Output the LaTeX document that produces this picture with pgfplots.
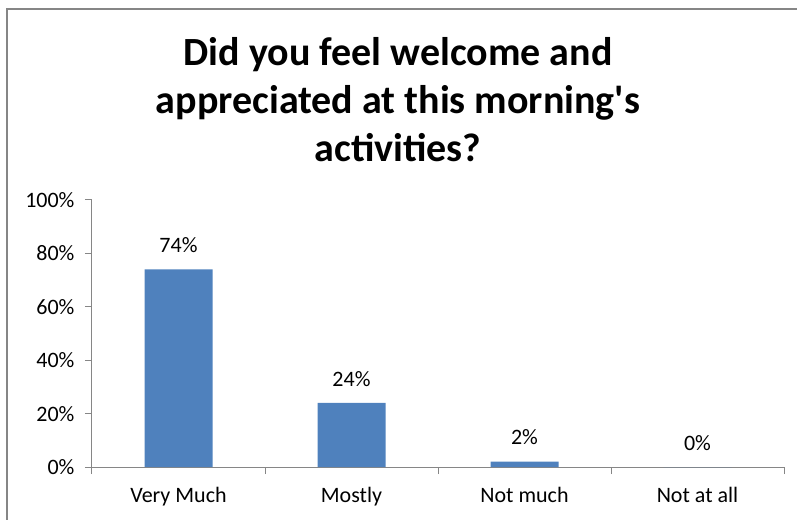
\documentclass[border=0pt]{standalone}
\usepackage{fontspec}
\setmainfont{Carlito}
\usepackage{pgfplots}
\pgfplotsset{compat=1.18}
\definecolor{barblue}{HTML}{4F81BD}
\definecolor{axisgray}{HTML}{868686}

\begin{document}
\begin{tikzpicture}[x=1pt,y=1pt]
  \useasboundingbox (-92,-52) rectangle (705,467);
  % chart frame (cut off at right and bottom)
  \draw[axisgray, line width=1.3pt] (-85,-60) -- (-85,458) -- (720,458);
  \node[align=center, font=\fontsize{40}{48}\selectfont\bfseries] at (306,367)
    {Did you feel welcome and\\appreciated at this morning\textquotesingle s\\activities?};
  \begin{axis}[
    at={(0,0)}, anchor=south west,
    scale only axis,
    width=692pt, height=267pt,
    ybar, bar width=68pt,
    xmin=-0.5, xmax=3.5,
    ymin=0, ymax=100,
    axis x line*=bottom, axis y line*=left,
    axis line style={axisgray, line width=1pt, -},
    xtick={-0.5,0.5,1.5,2.5,3.5}, xticklabels={},
    extra x ticks={0,1,2,3},
    extra x tick labels={Very Much, Mostly, Not much, Not at all},
    extra x tick style={major tick length=0pt, tick label style={yshift=-17pt}},
    ytick={0,20,40,60,80,100},
    yticklabel={\pgfmathprintnumber{\tick}\%},
    yticklabel style={xshift=-7pt},
    tick align=outside, major tick length=7pt,
    tick style={axisgray, line width=1pt},
    ticklabel style={font=\fontsize{22}{24}\selectfont, text=black},
    /pgf/number format/assume math mode=true,
    nodes near coords={\pgfmathprintnumber{\pgfplotspointmeta}\%},
    every node near coord/.append style={font=\fontsize{22}{24}\selectfont, text=black, yshift=13pt},
  ]
    \addplot[fill=barblue, draw=none] coordinates {
      (0,74) (1,24) (2,2) (3,0)
    };
  \end{axis}
\end{tikzpicture}
\end{document}
